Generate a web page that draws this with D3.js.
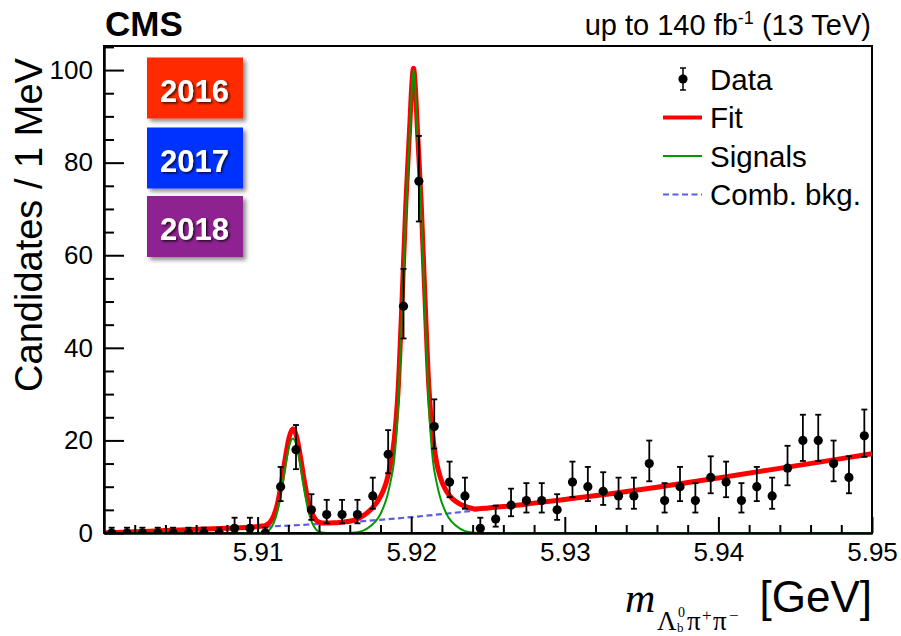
<!DOCTYPE html>
<html>
<head>
<meta charset="utf-8">
<script src="https://cdn.jsdelivr.net/npm/d3@7"></script>
<style>
  html, body { margin: 0; padding: 0; background: #fff; }
  svg { display: block; }
  text { font-family: "Liberation Sans", Arial, Helvetica, sans-serif; }
  .serif { font-family: "Liberation Serif", "Times New Roman", serif; }
</style>
</head>
<body>
<svg id="chart" width="901" height="636"></svg>
<script>
// Bin centres of the invariant-mass histogram (GeV), 1 MeV bins
const binCenters = [5.9005, 5.9015, 5.9025, 5.9035, 5.9045, 5.9055, 5.9065, 5.9075, 5.9085, 5.9095,
  5.9105, 5.9115, 5.9125, 5.9135, 5.9145, 5.9155, 5.9165, 5.9175, 5.9185, 5.9195,
  5.9205, 5.9215, 5.9225, 5.9235, 5.9245, 5.9255, 5.9265, 5.9275, 5.9285, 5.9295,
  5.9305, 5.9315, 5.9325, 5.9335, 5.9345, 5.9355, 5.9365, 5.9375, 5.9385, 5.9395,
  5.9405, 5.9415, 5.9425, 5.9435, 5.9445, 5.9455, 5.9465, 5.9475, 5.9485, 5.9495];
// Candidates per bin
const counts = [0, 0, 0, 0, 0, 0, 0, 0, 1, 1,
  0, 10, 18, 5, 4, 4, 4, 8, 17, 49,
  76, 23, 11, 8, 1, 3, 6, 7, 7, 5,
  11, 10, 9, 8, 8, 15, 7, 10, 7, 12,
  11, 7, 10, 8, 14, 20, 20, 15, 12, 21];
// Asymmetric Poisson uncertainties (down / up)
const errLo = [0, 0, 0, 0, 0, 0, 0, 0, 0.83, 0.83,
  0, 3.11, 4.21, 2.16, 1.91, 1.91, 1.91, 2.77, 4.09, 6.98,
  8.71, 4.76, 3.27, 2.77, 0.83, 1.63, 2.38, 2.58, 2.58, 2.16,
  3.27, 3.11, 2.94, 2.77, 2.77, 3.83, 2.58, 3.11, 2.58, 3.42,
  3.27, 2.58, 3.11, 2.77, 3.70, 4.44, 4.44, 3.83, 3.42, 4.55];
const errHi = [1.15, 1.15, 1.15, 1.15, 1.15, 1.15, 1.15, 1.15, 2.30, 2.30,
  1.15, 4.27, 5.33, 3.38, 3.16, 3.16, 3.16, 3.96, 5.22, 8.05,
  9.77, 5.87, 4.42, 3.96, 2.30, 2.92, 3.58, 3.77, 3.77, 3.38,
  4.42, 4.27, 4.13, 3.96, 3.96, 4.97, 3.77, 4.27, 3.77, 4.57,
  4.42, 3.77, 4.27, 3.96, 4.84, 5.55, 5.55, 4.97, 4.57, 5.67];

// Total fit curve
const fitMass = [5.9000, 5.9020, 5.9040, 5.9060, 5.9080, 5.9095, 5.9103, 5.91055, 5.9108, 5.91105,
  5.9113, 5.91155, 5.9118, 5.91205, 5.9123, 5.91255, 5.9128, 5.91305, 5.9133, 5.91355,
  5.9138, 5.91405, 5.9143, 5.9150, 5.9156, 5.9160, 5.91665, 5.91715, 5.91765, 5.9179,
  5.91815, 5.9184, 5.91865, 5.9189, 5.91915, 5.9194, 5.91965, 5.9199, 5.920025, 5.92015,
  5.920275, 5.9204, 5.92065, 5.9209, 5.92115, 5.9214, 5.92165, 5.9219, 5.92215, 5.9224,
  5.92265, 5.92315, 5.92365, 5.92415, 5.9250, 5.9260, 5.9280, 5.9300, 5.9330, 5.9360,
  5.9400, 5.9450, 5.9500];
const fitValue = [0.0, 0.25, 0.55, 0.8, 1.05, 1.25, 1.5, 1.7, 2.3, 3.75,
  6.4, 10.8, 16.1, 20.6, 22.5, 20.7, 16.2, 11.1, 6.8, 4.2,
  2.8, 2.3, 2.15, 2.2, 2.4, 2.55, 3.3, 4.4, 6.1, 7.3,
  8.9, 11.2, 14.8, 20.3, 31, 50, 71, 87.5, 96, 100.4,
  96, 87.5, 71.3, 50.5, 31.5, 21, 15.3, 12, 9.9, 8.5,
  7.5, 6.3, 5.6, 5.2, 5.4, 5.7, 6.45, 7.25, 8.5, 9.9,
  11.9, 14.5, 17.1];

// Signal components
const sigMass = [5.9000, 5.9095, 5.9103, 5.91055, 5.9108, 5.91105, 5.9113, 5.91155, 5.9118, 5.91205,
  5.9123, 5.91255, 5.9128, 5.91305, 5.9133, 5.91355, 5.9138, 5.91405, 5.9143, 5.9148,
  5.9160, 5.91615, 5.91665, 5.91715, 5.91765, 5.9179, 5.91815, 5.9184, 5.91865, 5.9189,
  5.91915, 5.9194, 5.91965, 5.9199, 5.920025, 5.92015, 5.920275, 5.9204, 5.92065, 5.9209,
  5.92115, 5.9214, 5.92165, 5.9219, 5.92215, 5.9224, 5.92265, 5.92315, 5.92365, 5.92415,
  5.9250, 5.9500];
const sigValue = [0, 0, 0.07, 0.25, 0.8, 2.2, 4.8, 9.1, 14.3, 18.7,
  20.4, 18.7, 14.3, 9.1, 4.8, 2.2, 0.8, 0.25, 0.07, 0,
  0, 0.05, 0.25, 1.0, 2.4, 3.5, 5.2, 7.5, 11, 16,
  27.5, 47.5, 69, 86, 95, 100, 95, 86, 69, 47.5,
  27.5, 16, 11, 7.5, 5.2, 3.5, 2.4, 1.0, 0.25, 0.05,
  0, 0];

// Combinatorial background
const bkgMass = [5.9000, 5.9030, 5.9060, 5.9090, 5.9120, 5.9150, 5.9180, 5.9210, 5.9240, 5.9270,
  5.9300, 5.9330, 5.9360, 5.9400, 5.9450, 5.9500];
const bkgValue = [0, 0.4, 0.8, 1.15, 1.6, 2.15, 2.85, 3.75, 4.8, 6.0,
  7.2, 8.5, 9.9, 11.9, 14.5, 17.1];

// Axis ticks
const xMajorTicks = [5.91, 5.92, 5.93, 5.94, 5.95];
const xMinorTicks = [5.902, 5.904, 5.906, 5.908, 5.912, 5.914, 5.916, 5.918, 5.922, 5.924, 5.926, 5.928,
  5.932, 5.934, 5.936, 5.938, 5.942, 5.944, 5.946, 5.948];
const yMajorTicks = [0, 20, 40, 60, 80, 100];
const yMinorTicks = [5, 10, 15, 25, 30, 35, 45, 50, 55, 65, 70, 75, 85, 90, 95, 105];

const years = ["2016", "2017", "2018"];
const yearColors = ["#ff2a00", "#0033ff", "#8e2290"];

const legendLabels = ["Data", "Fit", "Signals", "Comb. bkg."];

// ---------------------------------------------------------------
const svg = d3.select("#chart");
const plot = { left: 104, right: 872, top: 46, bottom: 533 };

const x = d3.scaleLinear().domain([5.90, 5.95]).range([plot.left, plot.right]);
const y = d3.scaleLinear().domain([0, 105.2]).range([plot.bottom, plot.top]);

const defs = svg.append("defs");
defs.append("clipPath").attr("id", "plotClip")
  .append("rect")
  .attr("x", plot.left).attr("y", plot.top)
  .attr("width", plot.right - plot.left).attr("height", plot.bottom - plot.top);

const boxShadow = defs.append("filter").attr("id", "boxShadow")
  .attr("x", "-20%").attr("y", "-20%").attr("width", "150%").attr("height", "150%");
boxShadow.append("feDropShadow").attr("dx", 3).attr("dy", 3).attr("stdDeviation", 2.2)
  .attr("flood-color", "#000").attr("flood-opacity", 0.45);

const textShadow = defs.append("filter").attr("id", "textShadow")
  .attr("x", "-20%").attr("y", "-30%").attr("width", "150%").attr("height", "170%");
textShadow.append("feDropShadow").attr("dx", 1.5).attr("dy", 1.5).attr("stdDeviation", 1.3)
  .attr("flood-color", "#000").attr("flood-opacity", 0.75);

// Frame
svg.append("rect")
  .attr("x", plot.left).attr("y", plot.top)
  .attr("width", plot.right - plot.left).attr("height", plot.bottom - plot.top)
  .attr("fill", "none").attr("stroke", "#000").attr("stroke-width", 2);

// Curves
const curves = svg.append("g").attr("clip-path", "url(#plotClip)");
const lineOf = (ms, vs) => d3.line()
  .x((d, i) => x(ms[i]))
  .y((d, i) => y(vs[i]))
  .curve(d3.curveMonotoneX)(ms);

curves.append("path")
  .attr("d", lineOf(bkgMass, bkgValue))
  .attr("fill", "none").attr("stroke", "#5c5ce6").attr("stroke-width", 2.2)
  .attr("stroke-dasharray", "6,3.5");

curves.append("path")
  .attr("d", lineOf(fitMass, fitValue))
  .attr("fill", "none").attr("stroke", "#ff0000").attr("stroke-width", 5)
  .attr("stroke-linejoin", "round");

curves.append("path")
  .attr("d", lineOf(sigMass, sigValue))
  .attr("fill", "none").attr("stroke", "#009900").attr("stroke-width", 2);

// Axes
const xAxisMajor = d3.axisBottom(x).tickValues(xMajorTicks)
  .tickSizeInner(-16).tickSizeOuter(0).tickPadding(10).tickFormat(d3.format(".2f"));
const xAxisMinor = d3.axisBottom(x).tickValues(xMinorTicks)
  .tickSizeInner(-8).tickSizeOuter(0).tickFormat("");
const yAxisMajor = d3.axisLeft(y).tickValues(yMajorTicks)
  .tickSizeInner(-20).tickSizeOuter(0).tickPadding(11).tickFormat(d3.format("d"));
const yAxisMinor = d3.axisLeft(y).tickValues(yMinorTicks.filter(v => y(v) > plot.top))
  .tickSizeInner(-10).tickSizeOuter(0).tickFormat("");

function styleAxis(g) {
  g.select(".domain").attr("stroke", "#000").attr("stroke-width", 2);
  g.selectAll(".tick line").attr("stroke", "#000").attr("stroke-width", 2);
  g.selectAll(".tick text")
    .attr("fill", "#000")
    .style("font-family", "'Liberation Sans', Arial, Helvetica, sans-serif")
    .style("font-size", "26px");
}

svg.append("g").attr("transform", `translate(0,${plot.bottom})`).call(xAxisMinor).call(styleAxis);
svg.append("g").attr("transform", `translate(0,${plot.bottom})`).call(xAxisMajor).call(styleAxis);
svg.append("g").attr("transform", `translate(${plot.left},0)`).call(yAxisMinor).call(styleAxis);
svg.append("g").attr("transform", `translate(${plot.left},0)`).call(yAxisMajor).call(styleAxis);

// Data points with error bars
const pts = svg.append("g").attr("clip-path", "url(#plotClip)");
const capW = 3;
binCenters.forEach((m, i) => {
  const cx = x(m);
  const yLo = y(counts[i] - errLo[i]);
  const yHi = y(counts[i] + errHi[i]);
  const g = pts.append("g");
  g.append("line").attr("x1", cx).attr("x2", cx).attr("y1", yLo).attr("y2", yHi)
    .attr("stroke", "#000").attr("stroke-width", 1.8);
  g.append("line").attr("x1", cx - capW).attr("x2", cx + capW).attr("y1", yHi).attr("y2", yHi)
    .attr("stroke", "#000").attr("stroke-width", 1.8);
  if (errLo[i] > 0) {
    g.append("line").attr("x1", cx - capW).attr("x2", cx + capW).attr("y1", yLo).attr("y2", yLo)
      .attr("stroke", "#000").attr("stroke-width", 1.8);
  }
  g.append("circle").attr("cx", cx).attr("cy", y(counts[i])).attr("r", 4.6).attr("fill", "#000");
});

// Axis titles
svg.append("text")
  .attr("transform", "translate(42,225) rotate(-90)")
  .attr("text-anchor", "middle")
  .style("font-size", "38px")
  .text("Candidates / 1 MeV");

// m with the Λb0 π+ π− subscript
const xTitleParts = [
  { t: "m",  x: 625, y: 612, size: 42, italic: true },
  { t: "Λ",  x: 657, y: 630, size: 27 },
  { t: "b",  x: 677, y: 632, size: 13 },
  { t: "0",  x: 678, y: 617, size: 14 },
  { t: "π",  x: 687, y: 630, size: 27 },
  { t: "+",  x: 702, y: 621, size: 17 },
  { t: "π",  x: 713, y: 630, size: 27 },
  { t: "−",  x: 729, y: 621, size: 17 }
];
xTitleParts.forEach(p => {
  svg.append("text").attr("class", "serif")
    .attr("x", p.x).attr("y", p.y)
    .style("font-size", p.size + "px")
    .style("font-style", p.italic ? "italic" : "normal")
    .text(p.t);
});

svg.append("text")
  .attr("x", 872).attr("y", 612)
  .attr("text-anchor", "end")
  .style("font-size", "44px")
  .text("[GeV]");

// Header
svg.append("text")
  .attr("x", 105).attr("y", 36)
  .style("font-size", "35px").style("font-weight", "bold")
  .text("CMS");

const lumi = svg.append("text")
  .attr("x", 871).attr("y", 35)
  .attr("text-anchor", "end")
  .style("font-size", "29px");
lumi.append("tspan").text("up to 140 fb");
lumi.append("tspan").attr("dy", -11).style("font-size", "18px").text("-1");
lumi.append("tspan").attr("dy", 11).text(" (13 TeV)");

// Year badges
const badgeY = [57.5, 127.5, 196];
years.forEach((yr, i) => {
  svg.append("rect")
    .attr("x", 147).attr("y", badgeY[i])
    .attr("width", 96).attr("height", 61)
    .attr("fill", yearColors[i])
    .attr("filter", "url(#boxShadow)");
  svg.append("text")
    .attr("x", 194.5).attr("y", badgeY[i] + 44)
    .attr("text-anchor", "middle")
    .attr("fill", "#fff")
    .attr("filter", "url(#textShadow)")
    .style("font-size", "31px").style("font-weight", "bold")
    .text(yr);
});

// Legend
const legX = 710;
const legY = [79, 117.5, 156, 194.5];
const leg = svg.append("g");
leg.append("line").attr("x1", 683).attr("x2", 683).attr("y1", legY[0] - 11).attr("y2", legY[0] + 11)
  .attr("stroke", "#000").attr("stroke-width", 1.5);
[legY[0] - 11, legY[0] + 11].forEach(yy => leg.append("line")
  .attr("x1", 680).attr("x2", 686).attr("y1", yy).attr("y2", yy)
  .attr("stroke", "#000").attr("stroke-width", 1.5));
leg.append("circle").attr("cx", 683).attr("cy", legY[0]).attr("r", 4.6).attr("fill", "#000");
leg.append("line").attr("x1", 663).attr("x2", 702).attr("y1", legY[1]).attr("y2", legY[1])
  .attr("stroke", "#ff0000").attr("stroke-width", 4);
leg.append("line").attr("x1", 663).attr("x2", 702).attr("y1", legY[2]).attr("y2", legY[2])
  .attr("stroke", "#009900").attr("stroke-width", 2);
leg.append("line").attr("x1", 663).attr("x2", 702).attr("y1", legY[3]).attr("y2", legY[3])
  .attr("stroke", "#5c5ce6").attr("stroke-width", 2).attr("stroke-dasharray", "6,3.5");
legendLabels.forEach((lab, i) => {
  leg.append("text")
    .attr("x", legX).attr("y", legY[i]).attr("dy", "0.36em")
    .style("font-size", "29.5px")
    .text(lab);
});
</script>
</body>
</html>
